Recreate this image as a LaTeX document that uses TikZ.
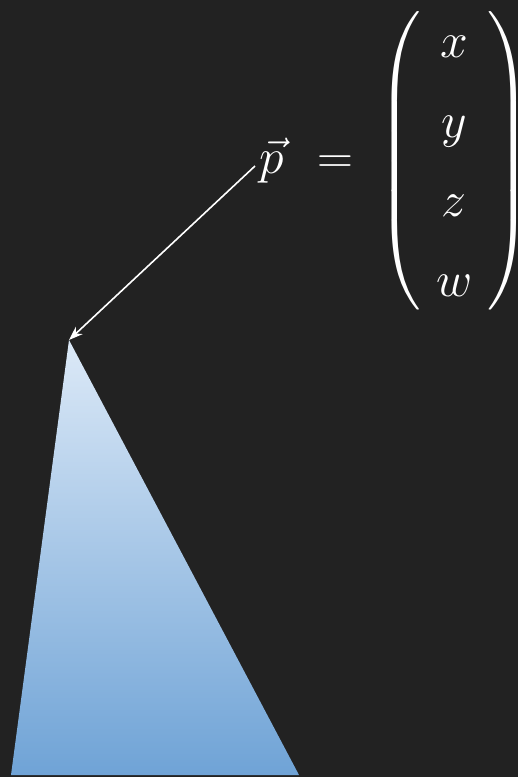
\documentclass[tikz,border=0pt]{standalone}
\usepackage{amsmath}
\usetikzlibrary{arrows.meta}
\definecolor{bgdark}{HTML}{222222}
\definecolor{tritop}{HTML}{DCE9F7}
\definecolor{tribot}{HTML}{6FA3D6}
\begin{document}
\begin{tikzpicture}[x=0.5pt,y=-0.5pt,
  pointer/.style={white,line width=0.8pt,-{Stealth[length=7pt,width=5pt]}},
  eqtext/.style={white,inner sep=0pt,font=\fontsize{27}{30}\selectfont}]

  % background and frame
  \fill[bgdark] (0,0) rectangle (518,777);
  \useasboundingbox (0,0) rectangle (518,777);

  % triangle
  \coordinate (apex) at (69,340);
  \coordinate (bl) at (11,775);
  \coordinate (br) at (299,775);
  \shade[top color=tritop,bottom color=tribot] (apex) -- (br) -- (bl) -- cycle;

  % position vector
  \node[eqtext,anchor=west] (eq) at (259,161)
    {$\delimiterfactor=800 \delimitershortfall=20pt
      \vec{p} \mskip7mu = \mskip4mu \renewcommand{\arraystretch}{1.33}
      \left(\begin{array}{@{\hspace{7.5pt}}c@{\hspace{7.5pt}}} x \\ y \\ z \\ w \end{array}\right)$};
  \coordinate (tail) at (255,166);

  \draw[pointer] (tail) -- (apex);

\end{tikzpicture}
\end{document}
